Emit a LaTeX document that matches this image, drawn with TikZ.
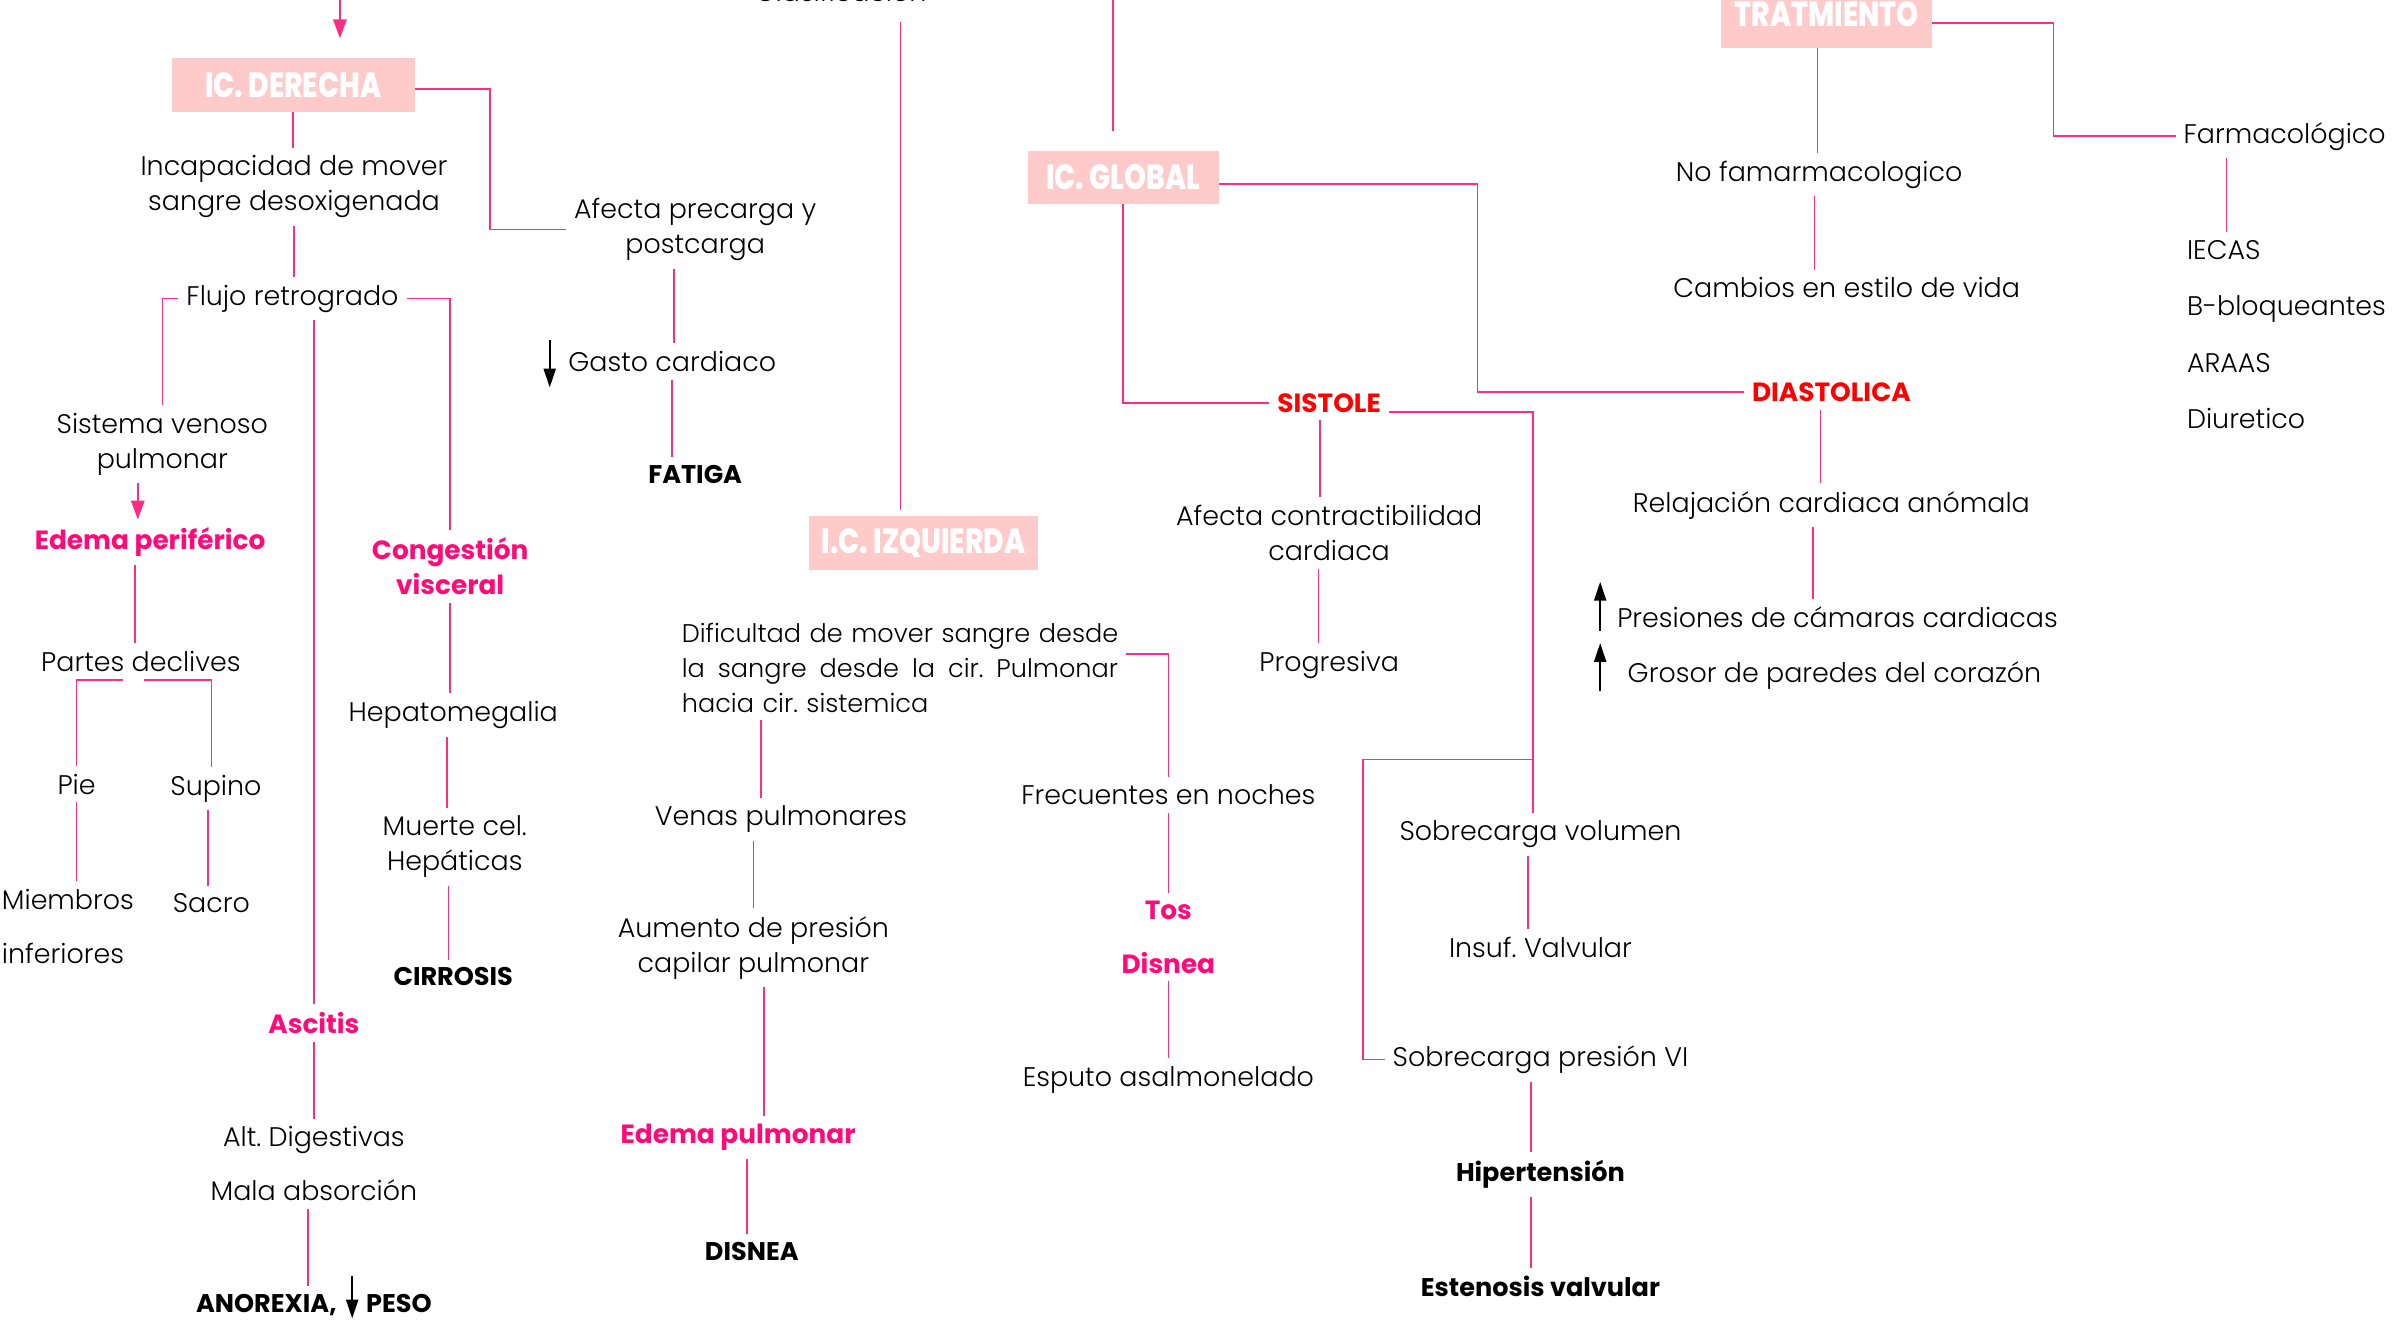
\documentclass[tikz,border=0pt]{standalone}
\usepackage{fontspec}
\setmainfont{Poppins}[UprightFont={* Light},BoldFont={* Bold}]
\newfontfamily\headfont{Poppins}[UprightFont={* ExtraBold},FakeStretch=0.8]
\usetikzlibrary{arrows.meta}
\definecolor{boxpink}{RGB}{255,202,202}
\definecolor{linkpink}{RGB}{255,45,130}
\definecolor{hotpink}{RGB}{255,10,120}
\definecolor{warnred}{RGB}{255,0,0}
\frenchspacing

\begin{document}
\begin{tikzpicture}[x=0.02cm,y=-0.02cm,
  every node/.style={inner sep=3pt, outer sep=0pt, align=center, font=\fontsize{10}{13}\selectfont},
  head/.style={fill=boxpink, text=white, minimum height=0.7cm, font=\headfont\fontsize{13}{13}\selectfont},
  pinkbf/.style={text=hotpink, font=\bfseries\fontsize{9.8}{13}\selectfont},
  redbf/.style={text=warnred, font=\bfseries\fontsize{9.8}{13}\selectfont},
  blkbf/.style={font=\bfseries\fontsize{9.5}{13}\selectfont},
  link/.style={draw=linkpink, line width=0.6pt},
  parr/.style={link, -{Triangle[width=5pt,length=7pt]}},
  barr/.style={line width=0.7pt, -{Triangle[width=4.5pt,length=7pt]}}]
\useasboundingbox (0,0) rectangle (1568,864);
\clip (0,0) rectangle (1568,864);

\node[head, minimum width=3.18cm] (der) at (191.5,55.5) {IC. DERECHA};
\node (incap) at (192,122) {Incapacidad de mover\\sangre desoxigenada};
\node (afecta) at (454,150) {Afecta precarga y\\postcarga};
\node (flujo) at (191,195) {Flujo retrogrado};
\node (sisven) at (106,290) {Sistema venoso\\pulmonar};
\node[pinkbf] (edper) at (98,354) {Edema periférico};
\node (partes) at (92,432) {Partes declives};
\node (pie) at (50,512) {Pie};
\node (supino) at (141,515) {Supino};
\node[anchor=west, align=left] (miemb) at (-4,605) {Miembros\\[7pt]inferiores};
\node (sacro) at (138,590) {Sacro};
\node[pinkbf] (cong) at (294,370) {Congestión\\visceral};
\node (hepato) at (296,467) {Hepatomegalia};
\node (muerte) at (297,553) {Muerte cel.\\Hepáticas};
\node[blkbf] (cirr) at (296,638) {CIRROSIS};
\node[pinkbf] (asc) at (205,668) {Ascitis};
\node (altdig) at (205,760) {Alt. Digestivas\\[7pt]Mala absorción};
\node[blkbf] (anor) at (205,852) {ANOREXIA,\hspace{11pt}PESO};

\node (gasto) at (439,236) {Gasto cardiaco};
\node[blkbf] (fatiga) at (454,310) {FATIGA};
\node[anchor=base] (clasif) at (549,1) {Clasificación};
\node[head, minimum width=3cm] (izq) at (603,354.5) {I.C. IZQUIERDA};
\node[anchor=west, align=left, text width=5.7cm, font=\fontsize{9.5}{13}\selectfont] (dific) at (440,436) {\makebox[5.7cm][l]{Dificultad de mover sangre desde}\\\makebox[5.7cm][l]{la\hfill sangre\hfill desde\hfill la\hfill cir.\hfill Pulmonar}\\hacia cir. sistemica};
\node (venas) at (510,535) {Venas pulmonares};
\node (aum) at (492,619) {Aumento de presión\\capilar pulmonar};
\node[pinkbf] (edpul) at (482,743) {Edema pulmonar};
\node[blkbf] (disn) at (491,817) {DISNEA};
\node (frec) at (763,519) {Frecuentes en noches};
\node[pinkbf] (tos) at (763,612) {Tos\\[7pt]Disnea};
\node (esputo) at (763,705) {Esputo asalmonelado};

\node[head, minimum width=2.5cm] (glob) at (733.5,116) {IC. GLOBAL};
\node[redbf] (sist) at (868,263) {SISTOLE};
\node (afcont) at (868,348) {Afecta contractibilidad\\cardiaca};
\node (progr) at (868,434) {Progresiva};
\node (sobvol) at (1006,545) {Sobrecarga volumen};
\node (insuf) at (1006,619) {Insuf. Valvular};
\node (sobpres) at (1006,692) {Sobrecarga presión VI};
\node[blkbf] (hiper) at (1006,767) {Hipertensión};
\node[blkbf] (esten) at (1006,840) {Estenosis valvular};
\node[redbf] (diast) at (1196,256) {DIASTOLICA};
\node (relaj) at (1196,330) {Relajación cardiaca anómala};
\node (pres) at (1200,403) {Presiones de cámaras cardiacas};
\node (gros) at (1198,441) {Grosor de paredes del corazón};

\node[head, minimum width=2.76cm, minimum height=0.9cm] (trat) at (1193,9) {TRATMIENTO};
\node (nofarm) at (1188,114) {No famarmacologico};
\node (camb) at (1206,188) {Cambios en estilo de vida};
\node (farm) at (1492,89) {Farmacológico};
\node[anchor=west, align=left] (flist) at (1423,218.5) {IECAS\\[8pt]B-bloqueantes\\[8pt]ARAAS\\[8pt]Diuretico};

\coordinate (top1) at (222,-5);
\coordinate (top2) at (727,-5);
\coordinate (br) at (1001,496);

\draw[parr, shorten >=0.26cm] (top1) -- (top1 |- der.north);
\draw[link] (der.south) -- (der.south |- incap.north);
\draw[link] ([yshift=-0.05cm]der.east) -- ++(49,0) |- (afecta.west);
\draw[link] (incap.south) -- (incap.south |- flujo.north);
\draw[link] (flujo.west) -| (sisven.north);
\draw[link] (flujo.east) -| (cong.north);
\draw[link] (asc.north |- flujo.south) -- (asc.north);
\draw[parr] ([xshift=-0.32cm]sisven.south) -- ([xshift=-0.32cm]sisven.south |- edper.north);
\draw[link] ([xshift=-0.2cm]edper.south) -- ([xshift=-0.2cm]edper.south |- partes.north);
\draw[link] ([xshift=-0.24cm]partes.south) -| (pie.north);
\draw[link] ([xshift=0.04cm]partes.south) -| ([xshift=-0.06cm]supino.north);
\draw[link] (pie.south) -- (pie.south |- miemb.north);
\draw[link] ([xshift=-0.1cm]supino.south) -- ([xshift=-0.1cm]supino.south |- sacro.north);
\draw[link] (cong.south) -- (cong.south |- hepato.north);
\draw[link] ([xshift=-0.08cm]hepato.south) -- ([xshift=-0.08cm]hepato.south |- muerte.north);
\draw[link] ([xshift=-0.08cm]muerte.south) -- ([xshift=-0.08cm]muerte.south |- cirr.north);
\draw[link] (asc.south) -- (asc.south |- altdig.north);
\draw[link] ([xshift=-0.08cm]altdig.south) -- ([xshift=-0.08cm]altdig.south |- anor.north);
\draw[barr] (230,833) -- (230,861);

\draw[link, shorten <=0.16cm, shorten >=0.08cm] ([xshift=0.78cm]clasif.south) -- ([xshift=0.78cm]clasif.south |- izq.north);
\draw[link] ([xshift=-0.28cm]afecta.south) -- ([xshift=-0.28cm]afecta.south |- gasto.north);
\draw[link] (gasto.south) -- (gasto.south |- fatiga.north);
\draw[barr] (359,222) -- (359,253);
\draw[link] ([yshift=0.18cm]dific.east) -| (frec.north);
\draw[link] ([xshift=-0.26cm]venas.north |- dific.south) -- ([xshift=-0.26cm]venas.north);
\draw[link] (aum.north |- venas.south) -- (aum.north);
\draw[link] ([xshift=0.14cm]aum.south) -- ([xshift=0.14cm]aum.south |- edpul.north);
\draw[link] ([xshift=0.12cm]edpul.south) -- ([xshift=0.12cm]edpul.south |- disn.north);
\draw[link] (frec.south) -- (frec.south |- tos.north);
\draw[link] (tos.south) -- (tos.south |- esputo.north);

\draw[link, shorten >=0.26cm] (top2) -- (top2 |- glob.north);
\draw[link] ([yshift=-0.08cm]glob.east) -- ++(169,0) |- (diast.west);
\draw[link] (glob.south) |- (sist.west);
\draw[link] ([yshift=-0.12cm]sist.east) -| ([xshift=-0.1cm]sobvol.north);
\draw[link] (br) -- ++(-111,0) |- (sobpres.west);
\draw[link] ([xshift=-0.16cm]sobvol.south) -- ([xshift=-0.16cm]sobvol.south |- insuf.north);
\draw[link] ([xshift=-0.12cm]sobpres.south) -- ([xshift=-0.12cm]sobpres.south |- hiper.north);
\draw[link] ([xshift=-0.12cm]hiper.south) -- ([xshift=-0.12cm]hiper.south |- esten.north);
\draw[link] ([xshift=-0.12cm]sist.south) -- ([xshift=-0.12cm]sist.south |- afcont.north);
\draw[link] ([xshift=-0.14cm]afcont.south) -- ([xshift=-0.14cm]afcont.south |- progr.north);
\draw[link] ([xshift=-0.14cm]diast.south) -- ([xshift=-0.14cm]diast.south |- relaj.north);
\draw[link] ([xshift=-0.24cm]relaj.south) -- ([xshift=-0.24cm]relaj.south |- pres.north);
\draw[barr] (1045,412) -- (1045,380);
\draw[barr] (1045,451) -- (1045,420);

\draw[link] ([xshift=-0.12cm]trat.south) -- ([xshift=-0.12cm]trat.south |- nofarm.north);
\draw[link] ([xshift=-0.06cm]nofarm.south) -- ([xshift=-0.06cm]nofarm.south |- camb.north);
\draw[link] ([yshift=-0.12cm]trat.east) -- ++(79,0) |- (farm.west);
\draw[link] ([xshift=-0.76cm]farm.south) -- ([xshift=-0.76cm]farm.south |- flist.north);
\end{tikzpicture}
\end{document}
